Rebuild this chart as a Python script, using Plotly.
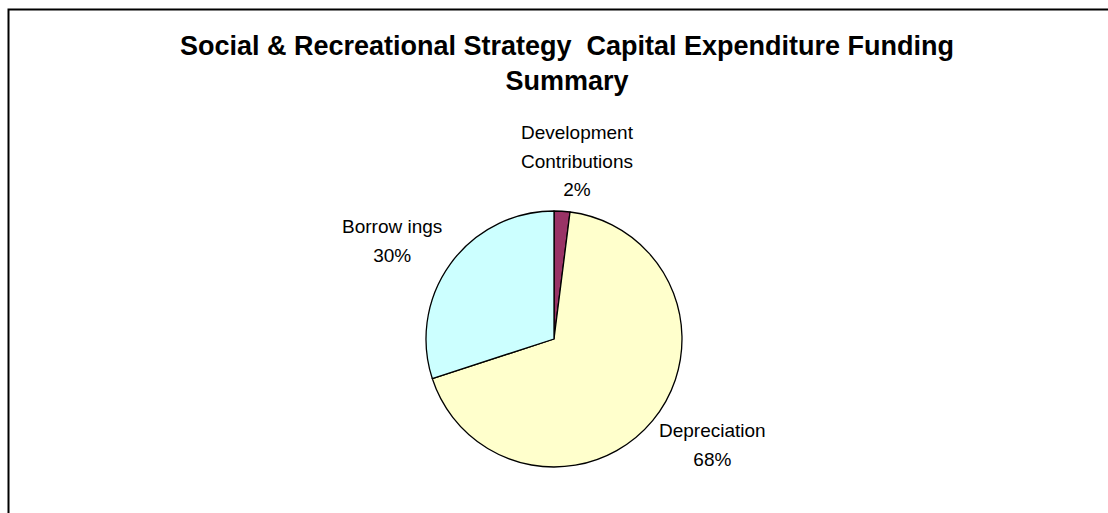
import plotly.graph_objects as go

# Funding sources for the capital expenditure programme (percent of total)
categories = ["Development Contributions", "Depreciation", "Borrow ings"]
label_text = ["Development<br>Contributions", "Depreciation", "Borrow ings"]
shares = [2, 68, 30]
colors = ["#993366", "#FFFFCC", "#CCFFFF"]

W, H = 1108, 513
FONT = "Liberation Sans, Arial, sans-serif"

fig = go.Figure(
    go.Pie(
        labels=categories,
        values=shares,
        sort=False,
        direction="clockwise",
        rotation=0,
        textinfo="none",
        hoverinfo="label+percent",
        marker=dict(colors=colors, line=dict(color="#000000", width=1.3)),
        domain=dict(x=[426 / W, 682 / W], y=[46 / H, 302 / H]),
        showlegend=False,
    )
)

# Slice labels placed around the pie (pixel centres of each label block).
# The outer font size sets the line pitch; the span sets the glyph size.
label_pos = [(577, 161), (712, 445), (392, 241)]
total = sum(shares)
for txt, val, (px, py) in zip(label_text, shares, label_pos):
    fig.add_annotation(
        x=px / W, y=1 - py / H, xref="paper", yref="paper",
        xanchor="center", yanchor="middle",
        text=f"<span style='font-size:19px'>{txt}<br>{round(val / total * 100)}%</span>",
        showarrow=False, align="center",
        font=dict(family=FONT, size=22, color="#000000"),
    )

# Chart-area frame
fig.add_shape(
    type="rect", xref="paper", yref="paper",
    x0=8.5 / W, x1=1.2, y0=-0.2, y1=1 - 9.5 / H,
    line=dict(color="#000000", width=2), fillcolor="rgba(0,0,0,0)", layer="above",
)

fig.update_layout(
    width=W, height=H,
    margin=dict(l=0, r=0, t=0, b=0),
    paper_bgcolor="#FFFFFF",
    plot_bgcolor="#FFFFFF",
    title=dict(
        text="Social & Recreational Strategy  Capital Expenditure Funding<br>Summary",
        x=567 / W, xanchor="center",
        y=1 - 55 / H, yanchor="middle", yref="container",
        font=dict(family=FONT, size=27, color="#000000", weight="bold"),
    ),
)

fig.write_html("out.html")
